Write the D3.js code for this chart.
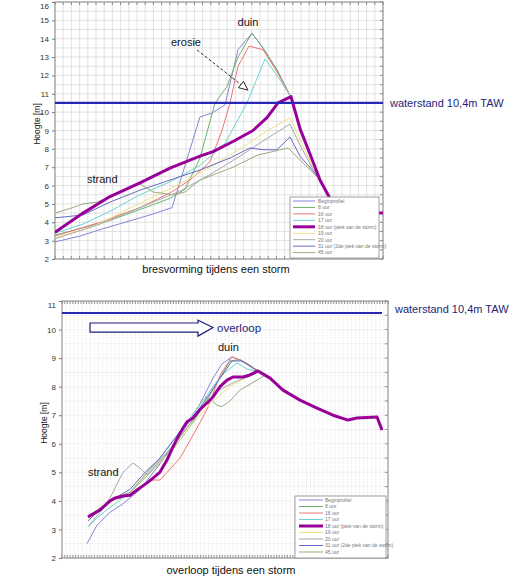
<!DOCTYPE html>
<html><head><meta charset="utf-8">
<script src="https://cdn.jsdelivr.net/npm/d3@7"></script>
<style>body{margin:0;background:#fff}svg{display:block}text{font-family:"Liberation Sans",Arial,sans-serif}</style>
</head><body><svg id="c" width="521" height="579"></svg>
<script>
// ---------- DATA ----------
const seriesNames = ["Beginprofiel","8 uur","16 uur","17 uur","18 uur (piek van de storm)","19 uur","20 uur","31 uur (2de piek van de storm)","45 uur"];
const seriesColors = ["#8484d8","#6cb46c","#f07474","#6cd4d4","#990099","#f0e08c","#a8a8a8","#6868c4","#9aaa80"];
const yTicksTop = [2,3,4,5,6,7,8,9,10,11,12,13,14,15,16];
const yTicksBottom = [2,3,4,5,6,7,8,9,10,11];
const waterTop = 10.5, waterBottom = 10.58;

// top chart: bresvorming  [afstand, hoogte]
const topBegin = [[0,2.93],[25,3.25],[45,3.6],[70,4.0],[95,4.4],[117,4.8],[145,9.74],[157,9.95],[170,10.4],[183,13.4],[197,14.3],[208,13.5],[222,12.3],[235,10.9],[245,9.1],[258,7.3],[265,6.3],[278,5.0],[300,4.55],[328,4.5]];
const top8 = [[0,3.3],[28,3.7],[55,4.1],[85,4.7],[115,5.3],[130,5.8],[145,7.5],[160,10.5],[172,11.4],[183,13.0],[197,14.3],[208,13.5],[222,12.3],[235,10.9],[245,9.1],[258,7.3],[265,6.3],[278,5.0],[300,4.55],[328,4.5]];
const top16 = [[0,3.25],[45,4.0],[85,4.8],[115,5.6],[135,6.3],[155,7.3],[167,9.0],[175,10.5],[183,12.5],[194,13.6],[208,13.4],[222,12.2],[235,10.9],[245,9.1],[258,7.3],[265,6.3],[278,5.0],[300,4.55],[328,4.5]];
const top17 = [[0,3.4],[28,3.9],[55,4.6],[85,5.5],[115,6.2],[145,7.1],[170,8.3],[192,10.5],[210,12.9],[222,12.0],[235,10.9],[245,9.1],[258,7.3],[265,6.3],[278,5.0],[300,4.55],[328,4.5]];
const top18 = [[0,3.45],[28,4.5],[55,5.4],[85,6.15],[115,6.95],[145,7.6],[158,7.85],[178,8.4],[198,9.0],[212,9.7],[223,10.5],[236,10.85],[245,9.1],[258,7.3],[265,6.3],[278,5.0],[300,4.55],[328,4.5]];
const top19 = [[0,3.15],[35,3.7],[65,4.5],[95,5.3],[125,6.1],[155,7.0],[185,8.0],[210,8.9],[235,9.7],[245,8.5],[258,7.0],[265,6.3],[278,5.0],[300,4.55],[328,4.5]];
const top20 = [[0,3.1],[45,3.9],[85,4.8],[125,5.7],[155,6.6],[185,7.6],[210,8.5],[235,9.35],[245,8.2],[258,6.9],[265,6.3],[278,5.0],[300,4.55],[328,4.5]];
const top31 = [[0,4.24],[28,4.4],[55,5.1],[85,5.75],[115,6.3],[145,6.85],[175,7.5],[195,8.05],[208,7.95],[222,7.95],[235,8.65],[245,7.6],[258,6.8],[265,6.3],[278,5.0],[300,4.55],[328,4.5]];
const top45 = [[0,4.5],[15,4.75],[28,5.0],[42,5.1],[85,6.1],[98,5.65],[118,5.5],[130,5.65],[145,6.3],[178,7.0],[202,7.65],[233,8.05],[245,7.4],[258,6.7],[265,6.3],[278,5.0],[300,4.55],[328,4.5]];

// bottom chart: overloop  [afstand, hoogte]
const botBegin = [[25,2.5],[35,3.15],[48,3.6],[61,3.9],[78,4.4],[98,5.3],[118,6.3],[138,7.4],[151,8.3],[160,8.8],[170,9.04],[178,8.93],[186,8.76],[196,8.55],[208,8.3],[221,7.88],[238,7.53],[255,7.25],[271,7.0],[286,6.83],[295,6.9],[315,6.94],[320,6.48]];
const bot8 = [[26,3.4],[38,3.7],[53,4.1],[68,4.3],[83,4.8],[98,5.35],[113,5.9],[128,6.6],[143,7.4],[156,8.2],[168,8.9],[178,8.95],[188,8.75],[196,8.55],[208,8.3],[221,7.88],[238,7.53],[255,7.25],[271,7.0],[286,6.83],[295,6.9],[315,6.94],[320,6.48]];
const bot16 = [[26,3.45],[48,4.0],[68,4.2],[83,4.6],[91,4.73],[98,4.73],[105,5.0],[118,5.5],[131,6.3],[145,7.2],[158,8.4],[170,9.05],[183,8.85],[196,8.55],[208,8.3],[221,7.88],[238,7.53],[255,7.25],[271,7.0],[286,6.83],[295,6.9],[315,6.94],[320,6.48]];
const bot17 = [[26,3.1],[38,3.5],[53,3.9],[68,4.3],[83,4.9],[98,5.5],[113,6.2],[128,6.9],[143,7.6],[153,8.1],[163,8.5],[175,8.83],[186,8.6],[196,8.55],[208,8.3],[221,7.88],[238,7.53],[255,7.25],[271,7.0],[286,6.83],[295,6.9],[315,6.94],[320,6.48]];
const bot18 = [[26,3.44],[38,3.68],[48,4.0],[53,4.1],[61,4.17],[68,4.2],[75,4.38],[85,4.63],[91,4.8],[98,5.01],[105,5.43],[111,5.89],[118,6.38],[125,6.77],[131,6.9],[138,7.2],[145,7.43],[151,7.64],[158,8.0],[165,8.23],[171,8.34],[181,8.34],[188,8.41],[196,8.55],[208,8.3],[221,7.88],[238,7.53],[255,7.25],[271,7.0],[286,6.83],[295,6.9],[315,6.94],[320,6.48]];
const bot19 = [[26,3.4],[48,3.95],[68,4.3],[88,5.0],[108,5.7],[128,6.6],[148,7.4],[168,8.0],[183,8.3],[196,8.55],[208,8.3],[221,7.88],[238,7.53],[255,7.25],[271,7.0],[286,6.83],[295,6.9],[315,6.94],[320,6.48]];
const bot20 = [[26,3.1],[38,3.6],[48,4.1],[61,5.0],[71,5.33],[78,5.15],[85,4.9],[98,5.4],[113,6.0],[128,6.7],[143,7.4],[158,7.9],[175,8.2],[196,8.5],[208,8.3],[221,7.88],[238,7.53],[255,7.25],[271,7.0],[286,6.83],[295,6.9],[315,6.94],[320,6.48]];
const bot31 = [[26,3.3],[38,3.7],[53,4.1],[68,4.4],[83,5.0],[98,5.5],[113,6.2],[128,6.8],[143,7.5],[158,8.3],[170,8.9],[180,8.9],[193,8.6],[208,8.3],[221,7.88],[238,7.53],[255,7.25],[271,7.0],[286,6.83],[295,6.9],[315,6.94],[320,6.48]];
const bot45 = [[26,3.45],[48,4.0],[68,4.3],[88,5.1],[108,5.8],[128,6.7],[138,7.2],[145,7.67],[155,7.35],[160,7.3],[168,7.5],[178,7.88],[195,8.23],[203,8.4],[208,8.3],[221,7.88],[238,7.53],[255,7.25],[271,7.0],[286,6.83],[295,6.9],[315,6.94],[320,6.48]];

const topSeries = [topBegin, top8, top16, top17, top18, top19, top20, top31, top45];
const botSeries = [botBegin, bot8, bot16, bot17, bot18, bot19, bot20, bot31, bot45];

// ---------- DRAW ----------
const svg = d3.select("#c");
svg.append("rect").attr("width",521).attr("height",579).attr("fill","#fff");

function chart(o){
  const g = svg.append("g");
  const x = d3.scaleLinear().domain(o.xDomain).range([o.left,o.right]);
  const y = d3.scaleLinear().domain(o.yDomain).range([o.bottom,o.top]);
  const gx = d3.range(o.xDomain[0], o.xDomain[1]+1e-6, (o.xDomain[1]-o.xDomain[0])/o.xGridN);
  const gy = d3.range(o.yDomain[0], o.yDomain[1]+1e-6, o.yGridStep);
  g.selectAll(".gx").data(gx).join("line")
    .attr("x1",d=>x(d)).attr("x2",d=>x(d)).attr("y1",o.top).attr("y2",o.bottom)
    .attr("stroke",o.gridColor).attr("stroke-width",0.8).attr("stroke-dasharray",o.gridDash||null);
  g.selectAll(".gy").data(gy).join("line")
    .attr("x1",o.left).attr("x2",o.right).attr("y1",d=>y(d)).attr("y2",d=>y(d))
    .attr("stroke",o.gridColor).attr("stroke-width",0.8).attr("stroke-dasharray",o.gridDash||null);
  const tx = d3.range(o.xDomain[0], o.xDomain[1]+1e-6, (o.xDomain[1]-o.xDomain[0])/o.xTickN);
  g.selectAll(".tb").data(tx).join("line")
    .attr("x1",d=>x(d)).attr("x2",d=>x(d)).attr("y1",o.bottom).attr("y2",o.bottom-3)
    .attr("stroke","#777").attr("stroke-width",0.8);
  g.selectAll(".tt").data(tx).join("line")
    .attr("x1",d=>x(d)).attr("x2",d=>x(d)).attr("y1",o.top).attr("y2",o.top+3)
    .attr("stroke","#777").attr("stroke-width",0.8);
  g.selectAll(".tr").data(gy).join("line")
    .attr("x1",o.right).attr("x2",o.right-3).attr("y1",d=>y(d)).attr("y2",d=>y(d))
    .attr("stroke","#777").attr("stroke-width",0.8);
  const ax = g.append("g").attr("transform",`translate(${o.left},0)`)
    .call(d3.axisLeft(y).tickValues(o.yTicks).tickSize(3).tickPadding(3).tickFormat(d3.format("d")));
  ax.select(".domain").remove();
  ax.selectAll("line").attr("stroke","#777");
  ax.selectAll("text").attr("font-size",8).attr("fill","#333").attr("font-family","Liberation Sans, Arial")
    .attr("dy", d => d === o.yDomain[1] ? "0.75em" : "0.32em");
  g.append("rect").attr("x",o.left).attr("y",o.top).attr("width",o.right-o.left).attr("height",o.bottom-o.top)
    .attr("fill","none").attr("stroke","#888").attr("stroke-width",1);
  const cid = "clip"+o.id;
  svg.append("clipPath").attr("id",cid).append("rect")
    .attr("x",o.left).attr("y",o.top).attr("width",o.right-o.left).attr("height",o.bottom-o.top);
  const lines = g.append("g").attr("clip-path",`url(#${cid})`);
  const line = d3.line().x(d=>x(d[0])).y(d=>y(d[1]));
  const order = [0,1,2,3,5,6,7,8,4];
  order.forEach(i=>{
    lines.append("path").attr("d",line(o.series[i])).attr("fill","none")
      .attr("stroke",seriesColors[i]).attr("stroke-width",i===4?3:1).attr("stroke-linejoin","round");
  });
  g.append("line").attr("x1",x(o.xDomain[0])).attr("x2",x(o.xDomain[1])-o.waterTrim)
    .attr("y1",y(o.water)).attr("y2",y(o.water)).attr("stroke","#2828b4").attr("stroke-width",2.2);
  g.append("text").attr("x",o.waterLabelX).attr("y",y(o.water)+o.waterLabelDy)
    .attr("font-size",11).attr("fill","#1e1e78").text("waterstand 10,4m TAW");
  g.append("text").attr("transform",`translate(${o.left-15},${o.yLabelY}) rotate(-90)`)
    .attr("text-anchor","middle").attr("font-size",8.5).attr("fill","#222").text("Hoogte [m]");
  g.append("text").attr("x",o.titleX).attr("y",o.titleY).attr("text-anchor","middle")
    .attr("font-size",11).attr("fill","#111").text(o.title);
  const L = o.legend;
  const lg = g.append("g");
  lg.append("rect").attr("x",L.x).attr("y",L.y).attr("width",L.w).attr("height",L.h)
    .attr("fill","#fff").attr("stroke","#888").attr("stroke-width",0.8);
  seriesNames.forEach((n,i)=>{
    const yy = L.y + 4 + i*L.step;
    lg.append("line").attr("x1",L.x+L.lx0).attr("x2",L.x+L.lx1).attr("y1",yy).attr("y2",yy)
      .attr("stroke",seriesColors[i]).attr("stroke-width",i===4?3:1);
    lg.append("text").attr("x",L.x+L.tx).attr("y",yy+1.8).attr("font-size",5).attr("fill","#777").text(n);
  });
  return {x,y,g};
}

// top chart
const T = chart({id:"t", left:55, right:383, top:2, bottom:259, xDomain:[0,328], yDomain:[2,16],
  xGridN:40, xTickN:40, yGridStep:0.5, gridColor:"#dadada", yTicks:yTicksTop, series:topSeries,
  water:waterTop, waterTrim:0, waterLabelX:390, waterLabelDy:4, yLabelY:124,
  title:"bresvorming tijdens een storm", titleX:216, titleY:273,
  legend:{x:290,y:197,w:89,h:61,step:6.45,lx0:3,lx1:25,tx:28}});
T.g.append("text").attr("x",T.x(193)).attr("y",26).attr("text-anchor","middle").attr("font-size",11).attr("fill","#111").text("duin");
T.g.append("text").attr("x",T.x(116)).attr("y",46).attr("font-size",11).attr("fill","#111").text("erosie");
T.g.append("text").attr("x",T.x(32)).attr("y",183).attr("font-size",11).attr("fill","#111").text("strand");
{
  const x1=T.x(142), y1=T.y(13.39), x2=T.x(193), y2=T.y(11.2);
  const ang = Math.atan2(y2-y1,x2-x1), L=9, W=4;
  const bx = x2 - L*Math.cos(ang), by = y2 - L*Math.sin(ang);
  T.g.append("line").attr("x1",x1).attr("y1",y1).attr("x2",bx).attr("y2",by)
    .attr("stroke","#111").attr("stroke-width",0.9).attr("stroke-dasharray","3,2");
  T.g.append("polygon").attr("points",[[x2,y2],[bx - W*Math.sin(ang), by + W*Math.cos(ang)],[bx + W*Math.sin(ang), by - W*Math.cos(ang)]].map(p=>p.join(",")).join(" "))
    .attr("fill","#fff").attr("stroke","#111").attr("stroke-width",0.9);
}

// bottom chart
const B = chart({id:"b", left:62, right:388, top:301, bottom:558, xDomain:[0,326], yDomain:[2,11],
  xGridN:80, xTickN:120, yGridStep:0.5, gridColor:"#e2e2e2", gridDash:"1,1", yTicks:yTicksBottom, series:botSeries,
  water:waterBottom, waterTrim:6, waterLabelX:395, waterLabelDy:0, yLabelY:423,
  title:"overloop tijdens een storm", titleX:231, titleY:574,
  legend:{x:295,y:496,w:91,h:62,step:6.5,lx0:4,lx1:28,tx:30}});
{
  const xa=B.x(28), xb=B.x(136), xt=B.x(151);
  const yt=B.y(10.23), yb=B.y(9.91), ym=B.y(10.07), yht=B.y(10.33), yhb=B.y(9.77);
  B.g.append("path").attr("d",`M${xa},${yt}L${xb},${yt}L${xb},${yht}L${xt},${ym}L${xb},${yhb}L${xb},${yb}L${xa},${yb}Z`)
    .attr("fill","#fff").attr("stroke","#1e1e78").attr("stroke-width",1.2);
  B.g.append("text").attr("x",B.x(155)).attr("y",ym+4).attr("font-size",11.5).attr("fill","#1e1e78").text("overloop");
}
B.g.append("text").attr("x",B.x(156)).attr("y",351).attr("font-size",11).attr("fill","#111").text("duin");
B.g.append("text").attr("x",B.x(26)).attr("y",476).attr("font-size",11).attr("fill","#111").text("strand");
</script></body></html>
